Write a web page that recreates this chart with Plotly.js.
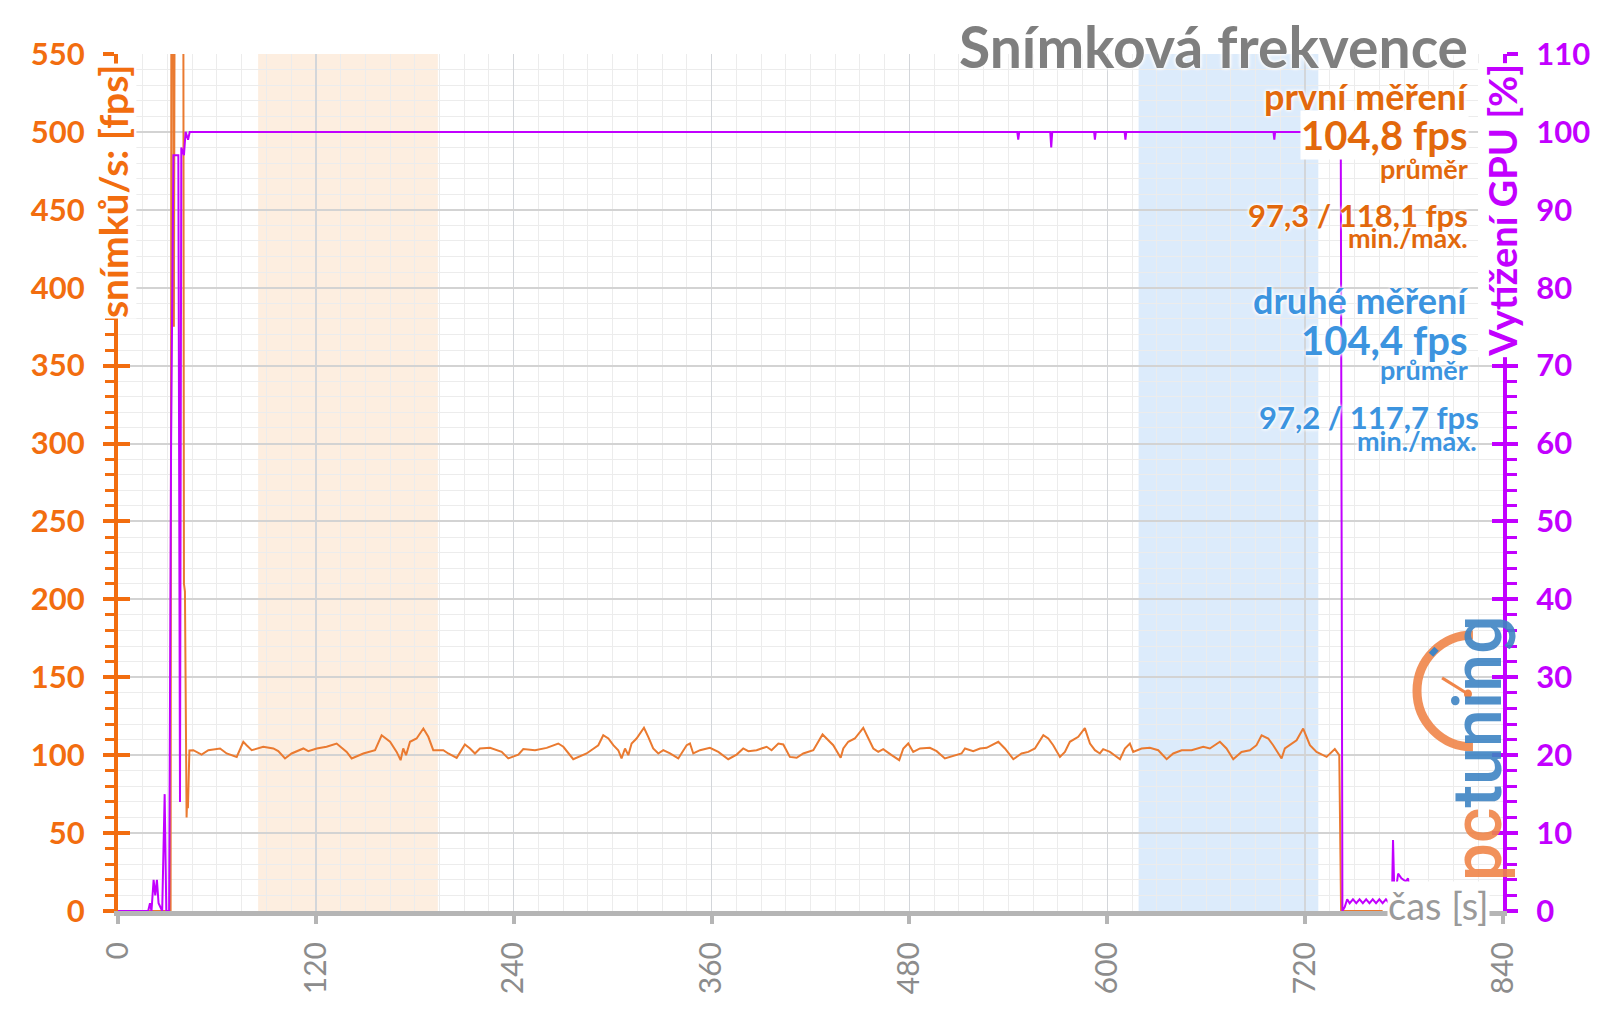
<!DOCTYPE html>
<html>
<head>
<meta charset="utf-8">
<script src="https://cdn.plot.ly/plotly-3.0.1.min.js"></script>
<style>html,body{margin:0;padding:0;background:#fff;}#chart{width:1600px;height:1009px;}</style>
</head>
<body>
<div id="chart"></div>
<script>
// ---- data ----
const xTickValues = [0, 120, 240, 360, 480, 600, 720, 840];
const xTickLabels = ['0', '120', '240', '360', '480', '600', '720', '840'];

const fpsTime = [0, 31.9, 32.4, 33.4, 33.9, 34.4, 39.6, 40.0, 40.6, 41.6, 42.0, 42.4, 43.3,
 45.7, 50.7, 54.8, 61.9, 65.9, 72.0, 76.0, 78.0, 81.1, 88.1,
 94.2, 97.2, 101.3, 105.3, 112.4, 115.4, 120.5, 126.5, 132.6, 138.7,
 141.7, 148.8, 155.9, 159.9, 165.0, 169.0, 171.4, 173.0, 174.7, 177.1,
 181.1, 185.2, 188.2, 191.2, 197.3, 200.3, 205.4, 210.4, 213.5, 216.5,
 219.5, 225.6, 232.7, 236.7, 242.8, 245.8, 252.9, 260.0, 267.0, 270.1,
 276.1, 284.2, 291.3, 294.3, 297.4, 300.4, 303.4, 305.4, 307.5, 309.5,
 311.5, 314.5, 319.0, 321.6, 324.6, 327.7, 330.7, 334.8, 339.8, 344.9,
 346.9, 348.9, 353.0, 359.0, 364.1, 370.1, 375.2, 379.2, 382.3, 387.3,
 393.4, 396.4, 400.5, 403.5, 407.5, 411.6, 415.6, 421.7, 424.7, 427.3,
 430.8, 433.8, 438.3, 439.9, 442.9, 446.9, 452.0, 455.0, 458.1, 461.1,
 464.1, 469.2, 473.8, 476.3, 479.3, 482.3, 486.4, 492.4, 496.5, 501.5,
 506.6, 511.6, 513.7, 518.7, 522.8, 526.8, 533.9, 537.9, 543.0, 548.0,
 552.1, 556.1, 561.2, 564.2, 567.2, 571.3, 574.3, 577.3, 582.4, 586.4,
 589.5, 592.5, 595.5, 597.5, 601.6, 607.7, 610.7, 613.7, 615.7, 620.8,
 625.8, 630.9, 636.0, 640.0, 645.1, 651.1, 658.2, 662.2, 668.3, 672.3,
 676.4, 681.4, 686.5, 690.5, 693.6, 697.6, 700.6, 705.7, 707.7, 710.8,
 714.8, 718.8, 722.9, 726.9, 733.0, 738.0, 740.7, 741.8, 767.0];

const fpsValue = [0, 0, 620, 620, 375, 620, 620, 210, 205, 60, 75, 66, 103,
 103.2, 100.4, 103.2, 104.3, 101.1, 98.9, 108.6, 106.4, 103.2, 105.4,
 104.3, 102.6, 97.9, 101.1, 104.3, 102.6, 104.3, 105.4, 107.5, 102.1,
 97.9, 101.1, 103.2, 112.8, 108.6, 102.1, 96.8, 104.3, 100, 108.6,
 110.7, 117.1, 111.8, 103.2, 103.2, 101.1, 98.3, 106.9, 104.3, 101.1,
 104.3, 104.7, 102.1, 97.9, 100.4, 103.9, 103.2, 104.7, 107.5, 105.4,
 97.4, 101.1, 106.4, 112.8, 110.7, 106.4, 103.2, 97.9, 104.3, 100,
 107.5, 110.7, 117.6, 111.8, 104.3, 101.1, 103.2, 101.1, 97.9, 106.4,
 107.5, 101.1, 103.2, 104.7, 102.1, 97.4, 100.4, 104.3, 102.6, 103.2,
 105.4, 103.2, 107.5, 106.9, 98.9, 98.3, 101.1, 103.2, 108.6, 113.3,
 109.6, 106.4, 98.3, 104.3, 108.6, 110.7, 117.6, 110.7, 104.3, 102.1,
 103.9, 100, 96.8, 104.3, 107.5, 102.1, 104.3, 104.7, 102.6, 97.9,
 99.6, 101.1, 104.3, 102.6, 104.3, 104.7, 108.6, 104.3, 97.4, 101.1,
 102.1, 104.3, 112.8, 110.7, 106.4, 98.9, 102.1, 108.6, 111.8, 117.4,
 107.5, 103.2, 101.1, 103.9, 102.1, 97.4, 104.3, 107.5, 102.1, 104.3,
 104.7, 103.2, 97.4, 101.1, 103.2, 103.2, 105.4, 104.3, 108.6, 104.3,
 97.4, 102.1, 103.2, 106.4, 112.8, 110.7, 106.4, 97.9, 104.3, 106.4,
 109.6, 117.1, 106.4, 102.1, 98.9, 103.9, 100, 0, 0];

const gpuTime = [0, 18.3, 19.4, 20.3, 21.6, 22.6, 23.6, 24.6, 26.8, 28.3,
 29.3, 31.0, 32.2, 33.0, 33.6, 35.6, 36.6, 37.6, 38.4, 40.0,
 41.0, 42.5, 43.5, 545.4, 546.0, 546.6, 565.4, 566.0, 566.6, 592.0,
 592.5, 593.0, 610.5, 611.0, 611.5, 700.8, 701.3, 701.8, 741.6, 742.6,
 744.0, 745.5, 747.0, 749.0, 751.0, 753.0, 755.0, 757.0, 759.0, 761.0,
 763.0, 765.0, 767.0, 769.0, 771.0, 772.6, 773.3, 774.2, 776.4, 778.4,
 781.0, 782.4, 783.8];

const gpuValue = [0, 0, 1, 0, 4, 2, 4, 1, 0, 15,
 0, 0, 60, 78, 97, 97, 97, 14, 98, 97,
 100, 99, 100, 100, 99, 100, 100, 98, 100, 100,
 99, 100, 100, 99, 100, 100, 99, 100, 100, 0,
 0.5, 1.5, 1, 1.5, 1, 1.5, 1, 1.5, 1, 1.5,
 1, 1.5, 1, 1.5, 1, 1, 9.1, 1.5, 4.8, 4.2,
 3.8, 4.2, 1.5];

const bandFirst = [85, 194];
const bandSecond = [619, 728];

// ---- styling ----
const ORANGE = '#f26d0f';
const FPS_LINE = '#ea7a30';
const MAGENTA = '#c200ff';
const ANN_ORANGE = '#e2680c';
const ANN_BLUE = '#3c94df';
const FONT = 'Lato, "Open Sans", sans-serif';
const glow = '0px 0px 4px #ffffff, 0px 0px 4px #ffffff, 0px 0px 3px #ffffff';

const traces = [
  {x: fpsTime, y: fpsValue, type: 'scatter', mode: 'lines', xaxis: 'x', yaxis: 'y',
   line: {color: FPS_LINE, width: 2}, hoverinfo: 'skip'},
  {x: gpuTime, y: gpuValue, type: 'scatter', mode: 'lines', xaxis: 'x', yaxis: 'y2',
   line: {color: MAGENTA, width: 2}, hoverinfo: 'skip'},
  {x: [], y: [], type: 'scatter', mode: 'lines', xaxis: 'x', yaxis: 'y3', hoverinfo: 'skip'},
  {x: [], y: [], type: 'scatter', mode: 'lines', xaxis: 'x', yaxis: 'y4', hoverinfo: 'skip'}
];

function ann(text, x, y, size, color, extra) {
  return Object.assign({
    text: text, xref: 'paper', yref: 'paper', x: x, y: y,
    xanchor: 'right', yanchor: 'middle', showarrow: false, borderpad: 0,
    font: {family: FONT, size: size, color: color, weight: 'bold', shadow: glow}
  }, extra || {});
}

const annotations = [
  ann('Snímková frekvence', 0.9755, 1.009, 57, '#7f7f7f'),
  ann('první měření', 0.9755, 0.9510, 36, ANN_ORANGE),
  ann('104,8 fps', 0.9755, 0.9060, 40, ANN_ORANGE, {bgcolor: '#ffffff'}),
  ann('průměr', 0.9755, 0.8665, 27, ANN_ORANGE),
  ann('97,3 / 118,1 fps', 0.9755, 0.8121, 31, ANN_ORANGE),
  ann('min./max.', 0.9755, 0.7860, 27, ANN_ORANGE),
  ann('druhé měření', 0.9755, 0.7128, 36, ANN_BLUE),
  ann('104,4 fps', 0.9755, 0.6663, 40, ANN_BLUE),
  ann('průměr', 0.9755, 0.6320, 27, ANN_BLUE),
  ann('97,2 / 117,7 fps', 0.9834, 0.5764, 31, ANN_BLUE),
  ann('min./max.', 0.9820, 0.5495, 27, ANN_BLUE),
  // axis titles
  {text: 'snímků/s: [fps]', xref: 'paper', yref: 'paper', x: -0.0040, y: 0.99,
   xanchor: 'center', yanchor: 'top', textangle: -90, showarrow: false, bgcolor: '#ffffff', borderpad: 0,
   font: {family: FONT, size: 39, color: ORANGE, weight: 'bold'}},
  {text: 'Vytížení GPU [%]', xref: 'paper', yref: 'paper', x: 0.9990, y: 0.99,
   xanchor: 'center', yanchor: 'top', textangle: -90, showarrow: false, bgcolor: '#ffffff', borderpad: 0,
   font: {family: FONT, size: 38, color: MAGENTA, weight: 'bold'}},
  {text: 'čas [s]', xref: 'paper', yref: 'paper', x: 0.9906, y: 0.007,
   xanchor: 'right', yanchor: 'middle', showarrow: false, bgcolor: '#ffffff', borderpad: 0,
   font: {family: FONT, size: 38, color: '#9a9a9a'}},
  // logo
  {text: '<span style="color:#f0864a">pc</span><span style="color:#3f84c4">tuning</span>',
   xref: 'paper', yref: 'paper', x: 0.982, y: 0.190, xanchor: 'center', yanchor: 'middle',
   textangle: -90, showarrow: false, opacity: 0.9,
   font: {family: 'Roboto, sans-serif', size: 68, weight: 500}}
];

const shapes = [
  {type: 'rect', xref: 'x', yref: 'paper', x0: bandFirst[0], x1: bandFirst[1], y0: 0, y1: 1,
   fillcolor: '#fdeee0', line: {width: 0}, layer: 'below'},
  {type: 'rect', xref: 'x', yref: 'paper', x0: bandSecond[0], x1: bandSecond[1], y0: 0, y1: 1,
   fillcolor: '#dcebfb', line: {width: 0}, layer: 'below'},
  // logo clock arc and hand
  {type: 'path', xref: 'paper', yref: 'paper',
   path: 'M 0.9783 0.3221 C 0.9560 0.3221 0.9379 0.2928 0.9379 0.2567 C 0.9379 0.2206 0.9560 0.1914 0.9783 0.1914',
   line: {color: '#f0864a', width: 9}, opacity: 0.9},
  {type: 'line', xref: 'paper', yref: 'paper', x0: 0.9560, y0: 0.2720, x1: 0.9747, y1: 0.2532,
   line: {color: '#f0864a', width: 3}},
  {type: 'circle', xref: 'paper', yref: 'paper', x0: 0.9718, y0: 0.2480, x1: 0.9776, y1: 0.2584,
   fillcolor: '#f0864a', line: {width: 0}},
  {type: 'line', xref: 'paper', yref: 'paper', x0: 0.9480, y0: 0.2990, x1: 0.9520, y1: 0.3060,
   line: {color: '#3f84c4', width: 6}}
];

const layout = {
  width: 1600, height: 1009,
  margin: {l: 118, r: 97, t: 54, b: 98, pad: 0},
  paper_bgcolor: '#ffffff', plot_bgcolor: '#ffffff',
  showlegend: false, hovermode: false,
  font: {family: FONT},
  xaxis: {
    range: [0, 840], tickmode: 'array', tickvals: xTickValues, ticktext: xTickLabels,
    tickangle: -90, tickfont: {family: FONT, size: 30, color: '#8c8c8c'},
    ticks: 'outside', ticklen: 8, tickwidth: 4, tickcolor: '#b5b5b5', ticklabelstandoff: 6,
    showgrid: true, gridcolor: '#d3d6da', gridwidth: 1.5,
    minor: {tickmode: 'linear', tick0: 0, dtick: 15, showgrid: true, gridcolor: '#ececec', gridwidth: 1},
    showline: true, linecolor: '#b5b5b5', linewidth: 5, zeroline: false, fixedrange: true
  },
  yaxis: {
    range: [0, 550], tickmode: 'linear', tick0: 0, dtick: 50,
    tickfont: {family: FONT, size: 31, color: ORANGE, weight: 'bold'},
    ticks: 'outside', ticklen: 11, tickwidth: 4, tickcolor: ORANGE, ticklabelstandoff: 12,
    showgrid: true, gridcolor: '#d3d3d3', gridwidth: 2,
    minor: {tickmode: 'linear', tick0: 0, dtick: 10, showgrid: true, gridcolor: '#ececec', gridwidth: 1,
            ticks: 'outside', ticklen: 9, tickwidth: 3, tickcolor: ORANGE},
    showline: true, linecolor: ORANGE, linewidth: 4, zeroline: false, fixedrange: true
  },
  yaxis2: {
    overlaying: 'y', side: 'right', range: [0, 110], tickmode: 'linear', tick0: 0, dtick: 10,
    tickfont: {family: FONT, size: 31, color: MAGENTA, weight: 'bold'},
    ticks: 'outside', ticklen: 11, tickwidth: 4, tickcolor: MAGENTA, ticklabelstandoff: 12,
    showgrid: false,
    minor: {tickmode: 'linear', tick0: 0, dtick: 2, showgrid: false,
            ticks: 'outside', ticklen: 10, tickwidth: 3, tickcolor: MAGENTA},
    showline: true, linecolor: MAGENTA, linewidth: 4, zeroline: false, fixedrange: true
  },
  yaxis3: {
    overlaying: 'y', side: 'left', range: [0, 550], tickmode: 'linear', tick0: 0, dtick: 50,
    ticks: 'inside', ticklen: 12, tickwidth: 4, tickcolor: ORANGE, showticklabels: false,
    showgrid: false, showline: false, zeroline: false, fixedrange: true
  },
  yaxis4: {
    overlaying: 'y', side: 'right', range: [0, 110], tickmode: 'linear', tick0: 0, dtick: 10,
    ticks: 'inside', ticklen: 11, tickwidth: 4, tickcolor: MAGENTA, showticklabels: false,
    showgrid: false, showline: false, zeroline: false, fixedrange: true
  },
  annotations: annotations,
  shapes: shapes
};

Plotly.newPlot('chart', traces, layout, {displayModeBar: false, staticPlot: true});
</script>
</body>
</html>
